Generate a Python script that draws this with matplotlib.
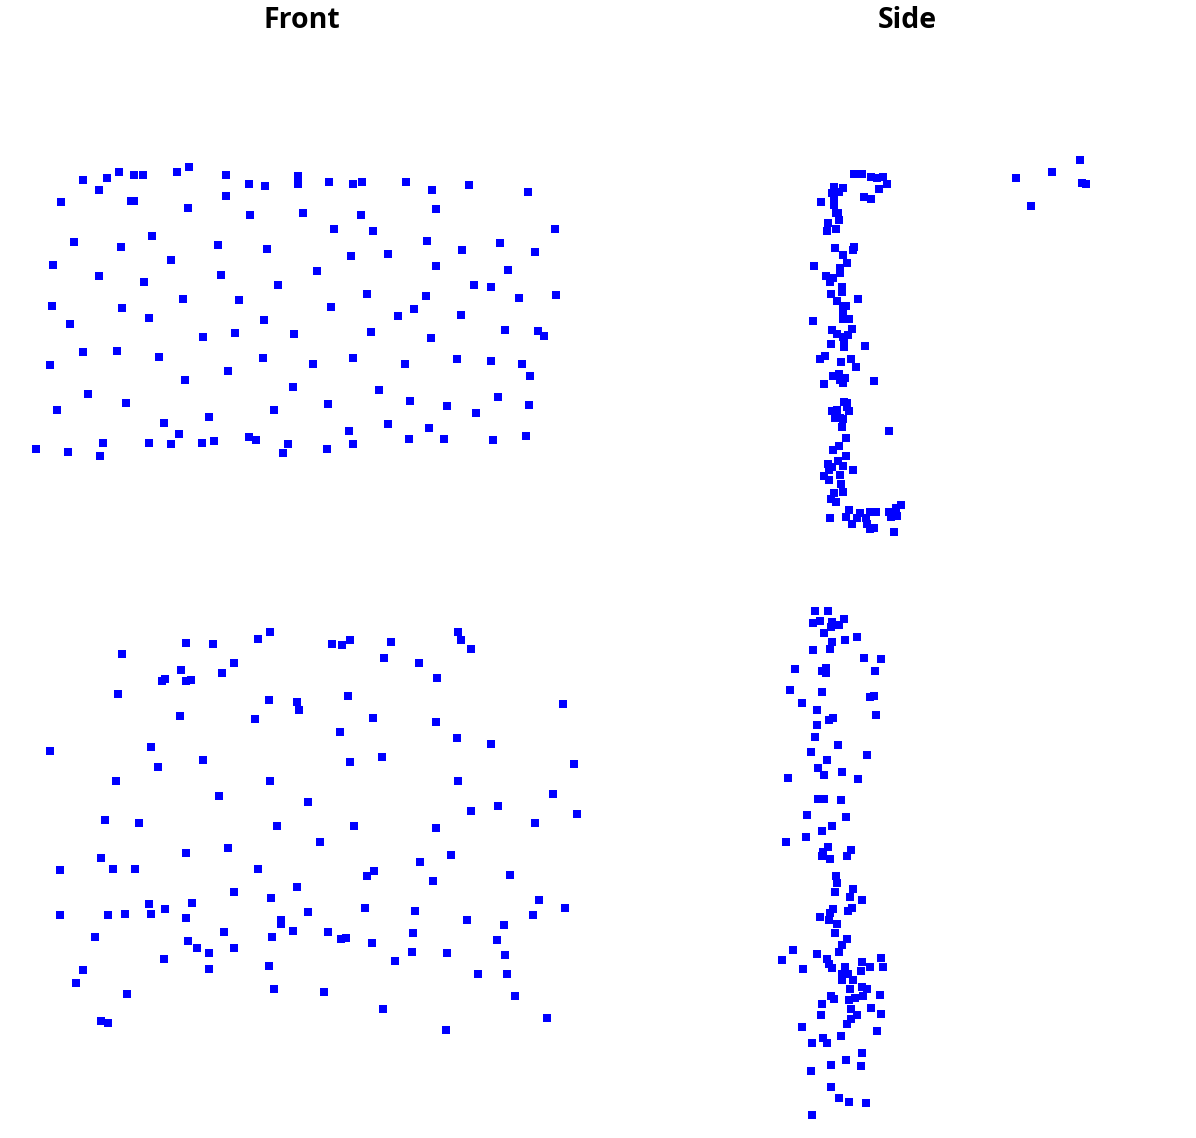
import matplotlib
matplotlib.use('Agg')
import matplotlib.pyplot as plt

# point positions
front_top_x = [36,68,100,103,149,171,179,164,202,214,209,249,256,283,288,327,353,349,274,328,293,388,409,429,444,493,526,529,498,476,447,410,379,57,88,126,185,228,50,83,117,159,263,313,353,405,457,491,522,530,70,52,122,149,203,235,264,294,371,431,505,538,544,461,398,414,426,367,331,239,183,144,99,53,74,121,152,171,218,221,267,278,317,351,388,436,427,462,474,491,500,508,535,555,519,556,61,83,99,107,119,134,143,131,134,177,189,188,226,226,249,265,250,298,298,303,329,353,362,361,334,373,406,432,436,469,528]
front_top_y = [449,452,456,443,443,444,434,423,443,441,417,437,440,453,444,449,444,431,410,404,387,424,439,428,439,440,436,405,397,413,406,401,390,410,394,403,380,371,365,352,351,357,358,364,358,364,359,361,364,376,324,306,308,318,337,333,320,334,332,338,330,331,336,315,316,309,296,294,307,300,299,282,276,265,242,247,236,260,245,275,249,285,271,256,254,266,241,250,285,287,243,270,252,229,298,295,202,180,190,178,172,175,175,201,201,172,167,208,175,196,184,186,215,176,184,213,182,184,182,215,229,231,182,190,209,185,192]

front_bottom_x = [50,122,186,213,258,270,332,342,350,391,384,419,437,458,461,471,181,186,191,165,162,222,234,118,180,269,297,299,255,348,373,340,436,457,491,563,574,382,350,151,158,203,116,270,219,308,458,471,498,553,577,535,436,354,277,320,105,139,101,113,135,186,228,258,60,420,451,374,367,433,510,234,297,271,192,149,165,125,108,60,151,186,308,365,415,467,539,565,533,504,281,281,293,272,224,328,341,346,372,413,497,505,95,188,197,209,234,412,447,395,164,269,209,83,76,478,507,127,274,324,515,383,101,108,547,446]
front_bottom_y = [751,654,643,644,639,632,644,645,640,642,658,663,678,632,640,649,670,681,680,679,681,673,663,694,716,700,702,710,719,696,718,732,722,738,744,704,764,757,762,747,767,760,781,781,796,802,781,811,806,794,814,823,828,826,826,842,820,823,858,869,869,853,848,869,870,862,855,871,876,881,875,892,887,898,903,904,909,914,915,915,914,918,912,908,911,920,900,908,915,925,920,924,931,937,932,932,939,938,943,933,940,955,937,941,948,953,948,952,953,961,959,966,969,970,983,974,974,994,989,992,996,1009,1021,1023,1018,1030]

side_top_x = [854,862,871,877,883,887,879,864,871,834,843,832,839,821,834,834,838,839,836,828,827,836,835,854,853,843,847,814,840,840,826,833,830,842,842,831,858,837,843,846,843,843,849,813,832,837,852,843,848,831,844,844,865,
              820,825,841,851,856,833,839,845,840,843,824,874,844,847,847,849,832,837,835,840,843,842,889,846,839,833,846,838,828,843,832,829,853,824,840,829,841,843,834,831,836,830,849,846,860,857,852,870,876,866,867,870,874,889,891,897,896,901,894,
              1016,1052,1080,1082,1086,1031]
side_top_y = [174,174,177,178,177,184,189,197,199,187,188,193,192,202,200,205,213,220,213,223,231,229,248,247,250,255,263,266,268,273,276,278,282,287,292,294,299,301,306,306,313,319,319,321,330,334,329,337,335,344,343,347,346,
              359,356,362,359,367,376,374,378,380,383,384,381,402,403,407,411,411,410,418,418,419,427,431,438,446,450,456,461,464,466,467,470,470,476,475,480,484,492,493,499,502,518,510,517,513,518,524,512,512,518,524,529,528,512,517,516,508,505,532,
              178,172,160,183,184,206]

side_bottom_x = [815,828,844,820,813,832,839,831,824,832,845,857,813,830,864,881,795,826,822,826,875,790,822,870,874,802,817,876,833,829,817,815,838,811,867,827,818,824,842,788,858,
                 818,824,841,807,846,832,822,806,786,828,823,822,830,851,847,836,837,835,853,850,862,833,830,852,848,820,829,837,835,847,842,839,
                 793,782,817,803,827,829,832,845,862,881,870,883,861,842,848,842,853,850,862,867,831,834,849,855,863,880,822,851,871,821,857,881,851,847,802,877,823,827,841,812,862,846,831,861,811,831,839,849,866,812]
side_bottom_y = [611,611,619,621,623,622,625,627,633,642,640,637,650,649,658,659,669,668,671,673,671,690,692,697,696,703,710,715,718,720,725,737,745,752,755,760,768,775,772,778,779,
                 799,799,800,815,817,826,831,837,842,847,852,856,859,850,856,876,883,892,889,897,900,909,913,908,911,917,920,924,933,939,945,952,
                 950,960,954,969,959,964,968,967,962,958,967,967,971,974,974,980,980,989,987,989,996,999,1000,998,996,995,1004,1009,1008,1015,1015,1014,1019,1024,1027,1031,1038,1043,1036,1043,1053,1060,1065,1066,1071,1087,1098,1102,1103,1115]

titles = ['Front', 'Side']

W, H = 1196, 1138
fig = plt.figure(figsize=(W / 100, H / 100), dpi=100)

# each panel: pixel box left, right, top, bottom, with its points
panels = [
    (0, 604, 40, 569, front_top_x, front_top_y),
    (618, 1196, 40, 569, side_top_x, side_top_y),
    (0, 604, 569, 1138, front_bottom_x, front_bottom_y),
    (618, 1196, 569, 1138, side_bottom_x, side_bottom_y),
]

axes = []
for left, right, top, bottom, xs, ys in panels:
    ax = fig.add_axes([left / W, 1 - bottom / H, (right - left) / W, (bottom - top) / H])
    ax.scatter(xs, ys, s=31, marker='s', color='#0000ff', linewidths=0)
    ax.set_xlim(left, right)
    ax.set_ylim(bottom, top)
    ax.axis('off')
    axes.append(ax)

for ax, name in zip(axes[:2], titles):
    ax.set_title(name, fontsize=20.5, fontweight='bold', family='Open Sans', pad=9)

fig.savefig('out.png', dpi=100)
